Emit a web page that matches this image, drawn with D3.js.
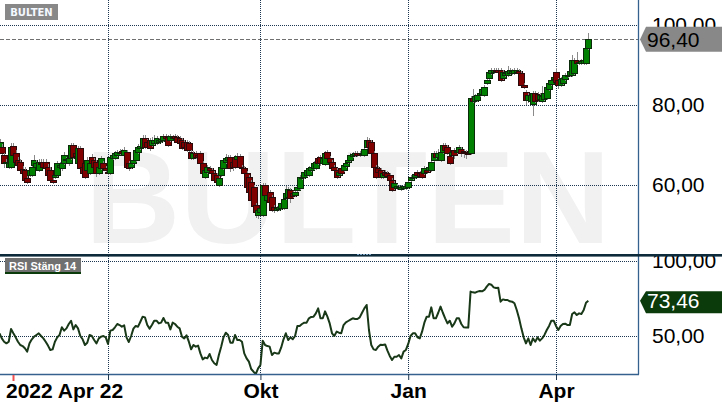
<!DOCTYPE html>
<html><head><meta charset="utf-8">
<script src="https://cdn.jsdelivr.net/npm/d3@7"></script>
<style>html,body{margin:0;padding:0;background:#fff;}svg{display:block;}</style>
</head><body><svg id="c" width="722" height="410"></svg>
<script>
// ---------- DATA (daily bars, index 0 = 2022 Apr 22) ----------
const ticker = "BULTEN";
const indicatorLabel = "RSI Stäng 14";
const open = [
69.6,69.6,67.5,65.4,64.6,64.6,69.8,67.9,66.3,65.8,
63.9,63.8,61.7,62.5,62.5,65.0,64.6,63.8,65.6,65.8,
65.8,64.6,63.8,61.3,61.9,62.5,64.6,64.2,65.4,66.3,
65.4,66.7,70.0,67.9,65.4,69.2,64.6,65.4,63.8,62.9,
67.1,66.3,65.8,62.9,64.2,65.4,64.2,63.3,62.9,66.7,
66.7,67.5,68.1,68.6,67.5,68.3,65.4,64.6,65.4,66.3,
68.3,69.2,69.6,71.7,70.8,71.3,70.0,70.4,70.4,70.8,
71.1,71.3,72.3,72.1,71.3,71.9,72.3,72.1,71.7,71.3,
70.8,70.8,70.4,68.3,66.7,67.9,67.5,67.9,65.4,62.1,
63.3,64.2,63.8,62.9,62.5,60.0,62.5,64.2,65.8,66.3,
67.1,65.8,67.1,66.4,67.3,64.6,64.2,62.9,62.1,60.8,
59.6,55.0,52.5,53.3,52.5,60.0,56.3,58.3,57.1,54.6,
53.8,53.9,54.2,54.2,56.7,57.1,58.8,57.9,57.5,58.8,
59.2,61.7,62.1,62.5,62.5,63.8,64.2,64.2,66.7,66.9,
65.6,65.3,68.3,66.7,65.8,64.6,63.8,62.5,64.2,63.8,
64.8,65.8,66.3,67.3,67.5,67.9,67.9,67.7,67.5,69.6,
71.3,70.8,67.9,64.6,64.2,63.8,62.1,63.3,62.9,62.5,
61.3,59.6,59.2,59.2,59.0,59.2,59.2,59.6,61.3,61.7,
61.9,63.3,63.1,63.3,62.9,63.8,63.8,63.8,66.3,67.9,
67.1,66.3,68.3,70.0,69.6,67.3,67.5,68.8,68.3,68.3,
68.9,68.6,68.3,68.1,68.0,81.8,81.0,81.3,82.5,82.8,
82.5,85.4,86.7,88.0,88.3,88.7,88.7,88.7,86.7,87.5,
87.5,88.0,88.0,88.0,88.2,88.5,87.9,85.0,83.3,81.3,
81.0,80.2,83.0,82.8,81.5,81.0,81.5,81.8,84.0,85.2,
86.4,88.3,86.2,85.0,85.5,86.5,87.3,87.5,87.5,88.0,
91.2,90.5,90.6,90.6,90.6,94.2];
const high = [
71.5,70.2,68.0,66.5,66.0,70.6,70.4,68.8,67.0,66.4,
64.8,64.6,62.3,64.5,65.4,67.6,66.2,66.4,66.5,66.6,
66.4,65.2,64.4,61.8,63.0,66.0,65.8,66.3,68.2,67.0,
67.4,70.5,70.6,68.6,69.8,69.8,65.2,66.0,66.9,66.0,
67.8,66.8,66.3,65.2,67.3,66.0,64.8,63.9,67.6,68.0,
68.4,68.8,68.9,69.1,69.4,68.8,66.0,66.0,66.9,69.3,
70.3,70.6,72.6,72.4,71.4,71.8,71.9,72.4,72.2,71.8,
72.0,72.8,72.7,72.6,72.8,72.5,72.7,72.5,72.2,71.8,
71.3,71.3,70.9,68.8,68.5,68.4,68.0,68.5,66.0,64.3,
65.1,64.8,64.3,63.4,63.0,62.2,65.1,66.8,67.8,67.6,
67.6,66.5,67.6,67.9,67.8,65.1,64.7,63.4,62.6,61.3,
60.1,55.5,54.3,54.7,60.6,60.5,58.0,58.8,57.6,55.1,
54.8,55.0,55.9,56.9,59.8,59.4,59.3,58.4,58.8,62.0,
62.6,62.6,63.8,64.3,64.7,65.1,65.9,66.3,67.2,67.4,
67.2,68.4,68.8,67.2,66.3,65.1,64.3,63.8,64.7,65.5,
65.9,66.8,68.0,68.2,68.4,68.4,68.4,68.4,69.4,72.0,
71.8,71.3,68.4,65.1,64.7,64.3,63.4,63.8,63.4,63.0,
61.8,60.9,60.3,60.1,60.1,60.3,60.3,61.3,62.4,62.6,
63.3,63.8,63.6,63.8,64.7,64.3,65.1,66.3,68.4,68.4,
68.9,68.8,70.5,70.5,70.1,67.8,68.8,69.3,69.1,70.1,
69.4,69.1,68.8,68.6,82.3,84.0,82.8,83.0,83.5,84.5,
84.9,86.7,88.8,89.2,89.2,89.2,89.2,89.2,88.8,88.5,
89.8,89.2,89.0,89.3,89.3,89.0,88.4,85.5,83.8,83.0,
83.0,83.4,83.5,83.3,83.0,84.8,83.5,85.1,85.9,86.7,
87.5,89.3,86.7,86.9,87.2,88.0,88.0,89.0,92.5,91.7,
93.2,91.3,91.5,91.7,94.7,97.9];
const low = [
69.0,67.0,64.2,65.0,64.0,64.0,66.8,65.0,64.4,63.2,
62.2,60.8,60.3,62.0,62.0,64.6,64.0,63.2,64.8,64.0,
63.7,61.8,60.8,60.3,61.5,62.0,64.0,63.6,65.0,65.8,
64.8,66.2,66.5,66.8,64.8,63.4,62.0,61.6,63.0,62.4,
64.8,64.0,62.0,62.4,63.8,63.6,63.2,62.4,62.4,66.2,
66.3,67.0,67.6,67.4,67.0,64.0,63.6,64.0,65.0,65.8,
67.8,68.8,69.2,69.0,69.0,68.6,69.5,70.0,70.0,70.3,
70.6,70.8,71.2,69.4,70.8,71.4,71.2,70.3,69.9,68.7,
69.0,68.3,68.2,66.2,66.2,66.6,66.3,64.8,62.3,61.6,
62.8,63.2,62.3,60.7,60.2,59.6,62.0,63.7,65.3,65.8,
63.2,63.6,64.0,65.9,64.0,63.7,62.4,59.0,57.3,55.5,
53.8,51.8,51.6,52.6,52.0,56.9,55.8,55.2,53.2,53.0,
53.2,53.4,53.7,53.7,56.2,56.6,55.6,56.8,57.0,58.3,
58.7,61.2,61.6,62.0,62.0,63.3,63.7,63.7,64.9,64.8,
65.1,64.8,66.2,65.3,63.7,63.3,61.6,62.0,62.4,63.3,
64.3,65.3,65.8,66.8,67.0,67.0,67.1,67.2,67.0,69.1,
69.1,67.4,64.1,61.6,62.8,61.6,61.6,62.0,61.8,60.8,
58.3,58.8,58.7,58.7,58.5,58.7,58.7,59.1,60.8,61.2,
61.4,62.0,61.8,61.6,62.4,62.8,63.3,63.3,65.8,66.6,
66.6,65.8,67.8,68.3,67.4,65.1,67.0,66.5,67.8,67.8,
67.0,66.8,66.6,67.4,67.5,80.5,80.5,80.8,82.0,82.3,
82.0,84.9,86.2,87.5,87.8,88.0,87.7,85.8,86.2,87.0,
87.0,87.5,87.5,87.5,87.7,87.5,84.5,83.9,80.0,80.5,
80.5,77.2,80.5,80.8,81.0,80.5,81.0,81.3,83.5,84.7,
85.9,85.3,84.0,84.5,85.0,86.0,86.8,87.0,87.0,87.5,
90.0,90.0,90.1,90.1,90.1,93.7];
const close = [
70.8,67.9,65.4,65.8,65.6,69.6,67.5,65.8,65.0,63.8,
62.9,61.3,60.7,63.8,64.6,66.3,65.6,65.8,65.3,64.6,
64.2,62.5,61.3,60.7,62.5,65.4,65.0,65.4,67.5,66.4,
66.7,70.0,67.1,67.3,69.2,64.2,62.9,62.1,66.3,65.4,
65.4,64.6,62.9,64.6,66.7,64.2,63.8,62.9,67.1,67.5,
67.9,68.3,68.3,67.9,68.8,64.6,64.2,65.4,66.3,68.8,
69.6,69.8,71.7,69.6,69.6,69.2,71.3,71.3,71.7,71.3,
71.4,72.3,71.7,70.0,72.3,72.1,71.7,70.8,70.4,69.2,
69.6,68.8,68.8,66.7,67.9,67.1,66.9,65.4,62.9,63.8,
64.6,63.8,62.9,61.3,60.8,61.7,64.6,66.3,66.7,67.1,
64.2,64.6,64.6,67.3,64.6,64.2,62.9,59.6,58.3,56.3,
54.8,53.3,53.8,54.2,60.0,57.5,57.5,55.8,53.8,53.8,
54.2,54.4,55.4,56.4,57.9,58.9,56.7,57.3,58.3,59.6,
62.1,62.1,63.3,63.8,64.2,64.6,65.4,65.8,65.4,65.4,
66.7,67.9,66.7,65.8,64.2,63.8,62.1,63.3,62.9,65.0,
65.4,66.3,67.5,67.7,67.9,67.5,67.6,67.9,68.9,71.3,
69.6,67.9,64.6,62.1,63.3,62.1,62.9,62.5,62.3,61.3,
58.8,60.4,59.8,59.6,59.6,59.8,59.8,60.8,61.9,62.1,
62.8,62.5,62.3,62.1,64.2,63.3,64.6,65.8,67.9,67.1,
67.9,68.3,70.0,68.8,67.9,65.6,68.3,67.5,68.6,69.6,
67.9,68.3,67.9,67.9,81.8,81.0,82.3,82.5,83.0,84.0,
84.4,86.2,88.3,88.7,88.7,88.5,88.2,86.3,88.3,88.0,
88.5,88.7,88.5,88.8,88.8,88.0,85.0,84.4,81.3,82.5,
82.5,82.9,81.0,81.3,82.5,82.2,83.0,84.6,85.4,86.2,
87.0,85.8,85.0,86.4,86.7,87.5,87.5,88.5,91.2,91.2,
90.5,90.8,91.0,91.2,94.2,96.4];
const rsi = [
51.8,48.4,46.2,45.1,46.2,54.7,51.8,49.1,46.2,44.0,
43.3,41.8,39.6,45.1,47.8,49.6,50.7,51.8,50.0,48.4,
46.2,43.6,40.7,41.1,46.2,49.1,50.7,55.8,53.6,55.1,
58.0,60.2,54.4,57.3,55.1,50.0,47.8,44.0,45.5,50.7,
50.0,47.3,45.1,48.4,49.6,50.0,49.1,44.7,53.6,54.0,
55.8,58.0,57.3,56.2,57.1,49.1,46.0,50.0,54.9,56.7,
56.2,59.5,62.9,62.4,57.3,54.9,57.3,60.2,60.2,58.4,
58.9,62.0,58.9,58.9,54.4,58.9,58.0,56.2,55.1,49.6,
48.4,50.4,46.2,41.1,44.0,42.9,43.6,38.4,34.4,35.6,
35.1,38.0,34.0,31.8,30.7,37.3,42.9,49.1,52.2,50.7,
45.5,45.5,50.7,47.3,47.3,46.2,38.4,35.1,32.9,28.0,
26.2,24.7,28.4,30.7,46.9,44.0,43.3,42.9,37.3,38.9,
38.4,38.4,42.4,47.8,51.8,47.3,49.1,47.8,50.0,56.7,
56.7,58.0,58.9,58.9,61.8,62.7,62.9,65.1,68.4,61.8,
61.8,66.4,62.9,58.4,51.8,50.0,52.9,52.2,51.8,57.3,
59.1,60.0,60.9,61.8,61.3,61.3,62.4,65.5,68.4,70.7,
54.0,44.0,41.1,40.7,42.9,44.2,44.0,44.4,40.2,36.7,
34.0,36.2,36.2,37.3,35.1,39.6,40.7,44.7,50.0,51.8,
51.8,49.1,48.4,52.9,58.9,62.9,62.9,69.1,61.8,61.8,
65.5,69.6,65.5,61.8,58.4,60.2,56.2,58.4,61.8,61.8,
58.0,55.8,55.6,55.6,79.6,79.1,78.9,79.6,80.0,79.8,
80.7,82.9,84.7,84.2,82.4,82.0,82.2,72.9,74.4,74.0,
74.0,73.1,72.9,71.8,67.3,61.8,55.1,49.1,45.1,48.4,
44.0,48.4,46.2,49.1,46.9,48.4,50.7,54.0,56.7,60.2,
60.2,56.7,54.0,56.7,58.0,58.2,57.3,57.3,64.7,65.8,
64.0,65.1,64.7,67.3,72.2,73.46];
const lastPrice = 96.40;
const lastRsi = 73.46;
const priceTicks = [100, 80, 60];
const rsiTicks = [100, 50];
const timeTickIdx = [47, 113, 177, 241];          // Jul, Okt, Jan, Apr
const timeTickLabels = ["", "Okt", "Jan", "Apr"];
const startLabel = "2022 Apr 22";
const markerIdx = [6];

// ---------- LAYOUT ----------
const W = 722, H = 410;
const L = 0, R = 638, mainTop = 0, mainBot = 254, rsiTop = 257, rsiBot = 374;
const svg = d3.select("#c");
const FONT = "'Liberation Sans', Arial, sans-serif";

const x = d3.scaleLinear().domain([0, 241]).range([-0.5, 556]);
const y = d3.scaleLinear().domain([100, 60]).range([25, 185]);
const yr = d3.scaleLinear().domain([100, 50]).range([261, 336]);
const loc = d3.formatLocale({decimal: ",", thousands: " ", grouping: [3], currency: ["", ""]});
const fmt = loc.format(".2f");

const defs = svg.append("defs");
defs.append("clipPath").attr("id", "cm").append("rect")
  .attr("x", L).attr("y", mainTop).attr("width", R - L).attr("height", mainBot - mainTop);
defs.append("clipPath").attr("id", "cr").append("rect")
  .attr("x", L).attr("y", rsiTop).attr("width", R - L).attr("height", rsiBot - rsiTop + 1);

// watermark
svg.append("text").attr("x", 85).attr("y", 243)
  .attr("font-family", FONT).attr("font-weight", "bold").attr("font-size", 132)
  .attr("fill", "#f1f1f1").text(ticker);

// grid
const grid = svg.append("g").attr("fill", "none").attr("stroke", "#1c3550")
  .attr("stroke-width", 1).attr("stroke-dasharray", "1,1");
grid.selectAll(".hp").data(priceTicks).join("line")
  .attr("x1", L).attr("x2", R).attr("y1", d => Math.round(y(d)) + 0.5).attr("y2", d => Math.round(y(d)) + 0.5);
grid.selectAll(".hr").data(rsiTicks).join("line")
  .attr("x1", L).attr("x2", R).attr("y1", d => Math.round(yr(d)) + 0.5).attr("y2", d => Math.round(yr(d)) + 0.5);
grid.selectAll(".v").data(timeTickIdx).join("line")
  .attr("x1", d => Math.round(x(d)) + 0.5).attr("x2", d => Math.round(x(d)) + 0.5)
  .attr("y1", 0).attr("y2", rsiBot);

// last price dashed line
svg.append("line").attr("x1", L).attr("x2", R)
  .attr("y1", Math.round(y(lastPrice)) + 0.5).attr("y2", Math.round(y(lastPrice)) + 0.5)
  .attr("stroke", "#707070").attr("stroke-dasharray", "4,2");

// candles
const bars = close.map((c, i) => ({i, o: open[i], h: high[i], l: low[i], c}));
const cg = svg.append("g").attr("clip-path", "url(#cm)").attr("shape-rendering", "crispEdges");
bars.forEach(b => {
  const cx = Math.round(x(b.i));
  cg.append("line").attr("x1", cx + 0.5).attr("x2", cx + 0.5)
    .attr("y1", y(b.h)).attr("y2", y(b.l)).attr("stroke", "#8a8a8a");
  const up = b.c >= b.o;
  const top = Math.round(y(Math.max(b.o, b.c)));
  const bot = Math.round(y(Math.min(b.o, b.c)));
  cg.append("rect").attr("x", cx - 3 + 0.5).attr("y", top + 0.5)
    .attr("width", 6).attr("height", Math.max(1, bot - top))
    .attr("fill", up ? "#008000" : "#800000")
    .attr("stroke", up ? "#0a2a0a" : "#2a0a0a");
});

// RSI line
svg.append("path").datum(rsi).attr("clip-path", "url(#cr)")
  .attr("fill", "none").attr("stroke", "#183818").attr("stroke-width", 2)
  .attr("stroke-linejoin", "round")
  .attr("d", d3.line().x((d, i) => x(i)).y(d => yr(d)));

// right axes labels
const ax = svg.append("g").attr("transform", `translate(${R},0)`)
  .call(d3.axisRight(y).tickValues(priceTicks).tickFormat(fmt).tickSize(0).tickPadding(14));
const axr = svg.append("g").attr("transform", `translate(${R},0)`)
  .call(d3.axisRight(yr).tickValues(rsiTicks).tickFormat(fmt).tickSize(0).tickPadding(14));
[ax, axr].forEach(a => {
  a.select(".domain").remove();
  a.selectAll("text").attr("font-family", FONT).attr("font-size", 21).attr("fill", "#000").attr("dy", "0.29em");
});

// price tags
function tag(val, yy, fill, txt, up, dn, base) {
  const yc = yy;
  svg.append("path").attr("fill", fill)
    .attr("d", `M${R + 2},${yc} L${R + 8},${yc - up} L${W},${yc - up} L${W},${yc + dn} L${R + 8},${yc + dn} Z`);
  svg.append("text").attr("x", R + 9).attr("y", yc + base)
    .attr("font-family", FONT).attr("font-size", 21).attr("fill", txt).text(fmt(val));
}
tag(lastPrice, y(lastPrice), "#888888", "#000", 12.7, 12.3, 7.3);
tag(lastRsi, yr(lastRsi), "#0b3a0b", "#fff", 9.5, 12.5, 7.4);

// frame
svg.append("line").attr("x1", R + 0.5).attr("x2", R + 0.5).attr("y1", 0).attr("y2", rsiBot + 0.5)
  .attr("stroke", "#34618e").attr("stroke-width", 1.3);
svg.append("line").attr("x1", L).attr("x2", R + 1).attr("y1", rsiBot + 0.5).attr("y2", rsiBot + 0.5)
  .attr("stroke", "#34618e").attr("stroke-width", 1.3);
// panel separator
svg.append("rect").attr("x", 0).attr("y", 254).attr("width", W).attr("height", 2.6).attr("fill", "#0d2a3a");
svg.append("line").attr("x1", 357).attr("x2", 371).attr("y1", 254.5).attr("y2", 254.5)
  .attr("stroke", "#7fa6c6").attr("stroke-dasharray", "2,1");

// x axis
const xa = svg.append("g").attr("transform", `translate(0,${rsiBot})`)
  .call(d3.axisBottom(x).tickValues(timeTickIdx).tickFormat((d, i) => timeTickLabels[i]).tickSize(6).tickPadding(3));
xa.select(".domain").remove();
xa.selectAll(".tick line").attr("stroke", "#1c3550");
xa.selectAll("text").attr("font-family", FONT).attr("font-weight", "bold").attr("font-size", 21).attr("fill", "#000");
svg.append("text").attr("x", x(0) + 6.5).attr("y", rsiBot + 24)
  .attr("font-family", FONT).attr("font-weight", "bold").attr("font-size", 21).attr("fill", "#000").text(startLabel);
svg.selectAll(".mk").data(markerIdx).join("rect")
  .attr("x", d => Math.round(x(d)) - 0.5).attr("y", rsiBot + 1).attr("width", 2).attr("height", 6)
  .attr("fill", "#f05050");

// label boxes
svg.append("rect").attr("x", 5).attr("y", 4).attr("width", 53).attr("height", 16).attr("fill", "#888");
svg.append("text").attr("x", 31.5).attr("y", 16).attr("text-anchor", "middle")
  .attr("font-family", "'DejaVu Sans', sans-serif").attr("font-weight", "bold").attr("font-size", 10)
  .attr("fill", "#f4f8ff").text(ticker);
svg.append("rect").attr("x", 5).attr("y", 258).attr("width", 76).attr("height", 14).attr("fill", "#707070");
svg.append("rect").attr("x", 5).attr("y", 272).attr("width", 76).attr("height", 2).attr("fill", "#0b3a0b");
svg.append("text").attr("x", 9).attr("y", 269.5)
  .attr("font-family", FONT).attr("font-weight", "bold").attr("font-size", 11)
  .attr("fill", "#fff").text(indicatorLabel);
</script></body></html>
